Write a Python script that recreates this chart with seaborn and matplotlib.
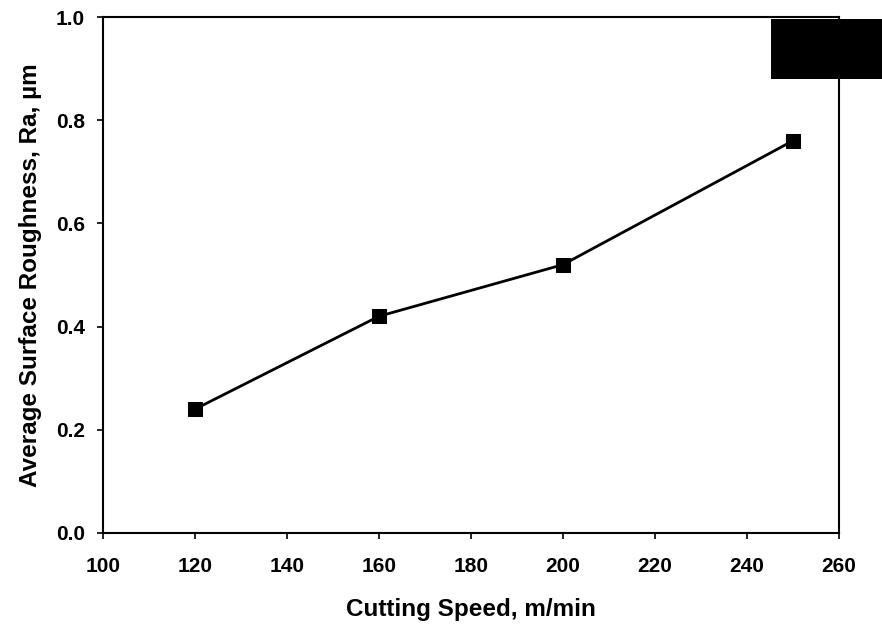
import matplotlib
matplotlib.use("Agg")
import matplotlib.pyplot as plt
import seaborn as sns
import pandas as pd
from matplotlib.patches import Rectangle

speed = [120, 160, 200, 250]
roughness = [0.24, 0.42, 0.52, 0.76]
xticks = [100, 120, 140, 160, 180, 200, 220, 240, 260]
yticks = [0.0, 0.2, 0.4, 0.6, 0.8, 1.0]

sns.set_style("ticks")
plt.rcParams['font.family'] = ['Liberation Sans', 'DejaVu Sans']
plt.rcParams['text.color'] = 'black'
plt.rcParams['axes.labelcolor'] = 'black'
plt.rcParams['xtick.color'] = 'black'
plt.rcParams['ytick.color'] = 'black'

df = pd.DataFrame({"speed": speed, "ra": roughness})

fig = plt.figure(figsize=(8.82, 6.26), dpi=100)
ax = fig.add_axes([0.1168, 0.1486, 0.951 - 0.1168, 0.9728 - 0.1486])
sns.lineplot(data=df, x="speed", y="ra", ax=ax, color="black", linewidth=2,
             marker="s", markersize=10, markeredgecolor="black", markerfacecolor="black")

ax.set_xlim(100, 260)
ax.set_ylim(0, 1.0)
ax.set_xticks(xticks)
ax.set_yticks(yticks)
ax.set_xticklabels([str(t) for t in xticks], fontsize=15, fontweight="bold")
ax.set_yticklabels([f"{t:.1f}" for t in yticks], fontsize=15, fontweight="bold")
ax.tick_params(direction="out", length=4, width=1.2, color="black", labelcolor="black")
ax.tick_params(axis="x", pad=13)
ax.tick_params(axis="y", pad=9)
for s in ax.spines.values():
    s.set_visible(True)
    s.set_linewidth(1.5)
    s.set_color("black")
ax.set_xlabel("Cutting Speed, m/min", fontsize=17.5, fontweight="bold", labelpad=16, color="black")
ax.set_ylabel("Average Surface Roughness, Ra, µm", fontsize=17.5, fontweight="bold", labelpad=10, color="black")

fig.patches.append(Rectangle((771/882, 1 - 79/626), (882-771)/882, (79-19)/626,
                             transform=fig.transFigure, facecolor="black", edgecolor="none", zorder=10))

fig.savefig("out.png", dpi=100)
